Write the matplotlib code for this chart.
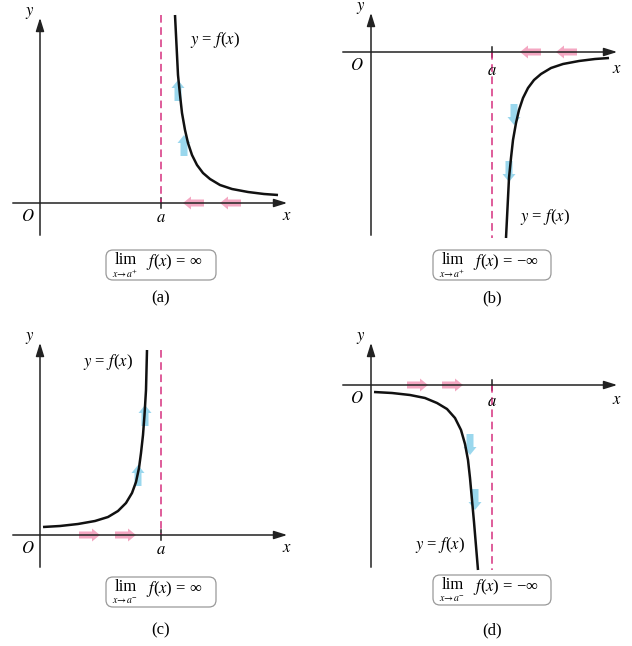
import matplotlib
matplotlib.use("Agg")
import matplotlib.pyplot as plt
from matplotlib.patches import FancyArrow, FancyBboxPatch

# Panel data, in picture pixel coordinates (x right, y down)
panels = ["a", "b", "c", "d"]
origin = {"a": (40, 203), "b": (371, 52), "c": (40, 535), "d": (371, 385)}
a_x = {"a": 161, "b": 492, "c": 161, "d": 492}
yaxis_span = {"a": (15, 238), "b": (10, 238), "c": (340, 570), "d": (340, 570)}
xaxis_span = {"a": (10, 290), "b": (340, 620), "c": (10, 290), "d": (340, 620)}
dash_span = {"a": (15, 203), "b": (52, 238), "c": (350, 535), "d": (385, 570)}
curve_x = {
    "a": [175, 176, 177, 178, 180, 182, 185, 188, 192, 197, 203, 210, 220, 232, 248, 264, 278],
    "b": [506, 507, 508, 509, 511, 513, 516, 519, 523, 528, 534, 541, 551, 563, 579, 595, 609],
    "c": [43, 60, 78, 95, 108, 118, 126, 132, 136, 139, 141, 143, 144.5, 146, 147],
    "d": [374, 392, 410, 425, 437, 447, 455, 461, 465, 468, 470, 472, 474, 476, 478],
}
curve_y = {
    "a": [15, 35, 55, 75, 95, 113, 130, 143, 155, 165, 173, 179, 185, 189, 192, 194, 195],
    "b": [238, 218, 198, 178, 158, 140, 123, 110, 98, 88, 80, 74, 68, 64, 61, 59, 58],
    "c": [527, 526, 524, 521, 517, 511, 503, 493, 482, 468, 453, 435, 415, 390, 350],
    "d": [392, 393, 395, 398, 403, 409, 418, 430, 444, 460, 478, 500, 522, 546, 570],
}
blue_arrows = {"a": [(178, 90, -1), (184, 145, -1)], "b": [(514, 115, 1), (509, 172, 1)],
               "c": [(138, 475, -1), (145, 415, -1)], "d": [(470, 445, 1), (475, 500, 1)]}
pink_arrows = {"a": [(193, 203, -1), (230, 203, -1)], "b": [(530, 52, -1), (566, 52, -1)],
               "c": [(90, 535, 1), (126, 535, 1)], "d": [(418, 385, 1), (453, 385, 1)]}
label_pos = {"a": (215, 40), "b": (545, 217), "c": (108, 362), "d": (440, 545)}
O_pos = {"a": (28, 217), "b": (357, 66), "c": (28, 549), "d": (357, 399)}
a_lab_y = {"a": 218, "b": 71, "c": 550, "d": 402}
box_y = {"a": 265, "b": 265, "c": 592, "d": 590}
cap_y = {"a": 298, "b": 298, "c": 630, "d": 630}
limit_side = {"a": "+", "b": "+", "c": "-", "d": "-"}
limit_val = {"a": "\u221e", "b": "\u2212\u221e", "c": "\u221e", "d": "\u2212\u221e"}

plt.rcParams["font.family"] = ["Liberation Serif", "DejaVu Serif"]
fig = plt.figure(figsize=(6.32, 6.46), dpi=100)
ax = fig.add_axes([0, 0, 1, 1])
ax.set_xlim(0, 632)
ax.set_ylim(646, 0)
ax.axis("off")

blue = "#8fd3ec"
pink = "#f4a7c2"
fs = 12
for p in panels:
    ox, oy = origin[p]
    ax.annotate("", xy=(xaxis_span[p][1], oy), xytext=(xaxis_span[p][0], oy),
                arrowprops=dict(arrowstyle="-|>,head_length=0.8,head_width=0.25", color="#222", lw=1.1))
    ax.annotate("", xy=(ox, yaxis_span[p][0]), xytext=(ox, yaxis_span[p][1]),
                arrowprops=dict(arrowstyle="-|>,head_length=0.8,head_width=0.25", color="#222", lw=1.1))
    ax.plot([a_x[p], a_x[p]], [oy - 5, oy + 5], color="#222", lw=1.1)
    ax.plot([a_x[p], a_x[p]], dash_span[p], color="#d6307e", lw=1.1, ls=(0, (5, 3)))
    for (x, y, d) in pink_arrows[p]:
        ax.add_patch(FancyArrow(x - d * 11, y, d * 13, 0, width=7, head_width=13, head_length=8,
                                length_includes_head=False, color=pink, lw=0))
    for (x, y, d) in blue_arrows[p]:
        ax.add_patch(FancyArrow(x, y - d * 11, 0, d * 13, width=7, head_width=13, head_length=8,
                                length_includes_head=False, color=blue, lw=0, alpha=0.9))
    ax.plot(curve_x[p], curve_y[p], color="#111", lw=1.8, solid_capstyle="butt",
            solid_joinstyle="round")
    ax.text(*label_pos[p], "$y$ = $f$($x$)", fontsize=fs, ha="center", va="center",
            math_fontfamily="stix")
    ax.text(*O_pos[p], "$O$", fontsize=fs, ha="center", va="center", math_fontfamily="stix")
    ax.text(a_x[p], a_lab_y[p], "$a$", fontsize=fs, ha="center", va="center", math_fontfamily="stix")
    ax.text(xaxis_span[p][1] - 3, a_lab_y[p] - 2, "$x$", fontsize=fs, ha="center", va="center",
            math_fontfamily="stix")
    ax.text(ox - 10, yaxis_span[p][0] - 2, "$y$", fontsize=fs, ha="center", va="center",
            math_fontfamily="stix")
    cx = a_x[p]
    bw = 110 if limit_val[p] == "\u221e" else 118
    ax.add_patch(FancyBboxPatch((cx - bw / 2, box_y[p] - 15), bw, 30,
                                boxstyle="round,pad=0,rounding_size=7", fc="white", ec="#999", lw=0.9))
    ax.text(cx - bw / 2 + 9, box_y[p] - 5, "lim", fontsize=fs, ha="left", va="center")
    ax.text(cx - bw / 2 + 6, box_y[p] + 9, "$x\\!\\rightarrow\\! a^{%s}$" % limit_side[p],
            fontsize=7, ha="left", va="center", math_fontfamily="stix")
    ax.text(cx - bw / 2 + 40, box_y[p] - 3, "$f$($x$) = %s" % limit_val[p], fontsize=fs,
            ha="left", va="center", math_fontfamily="stix")
    ax.text(cx, cap_y[p], "(%s)" % p, fontsize=fs, ha="center", va="center")

fig.savefig("out.png", dpi=100)
